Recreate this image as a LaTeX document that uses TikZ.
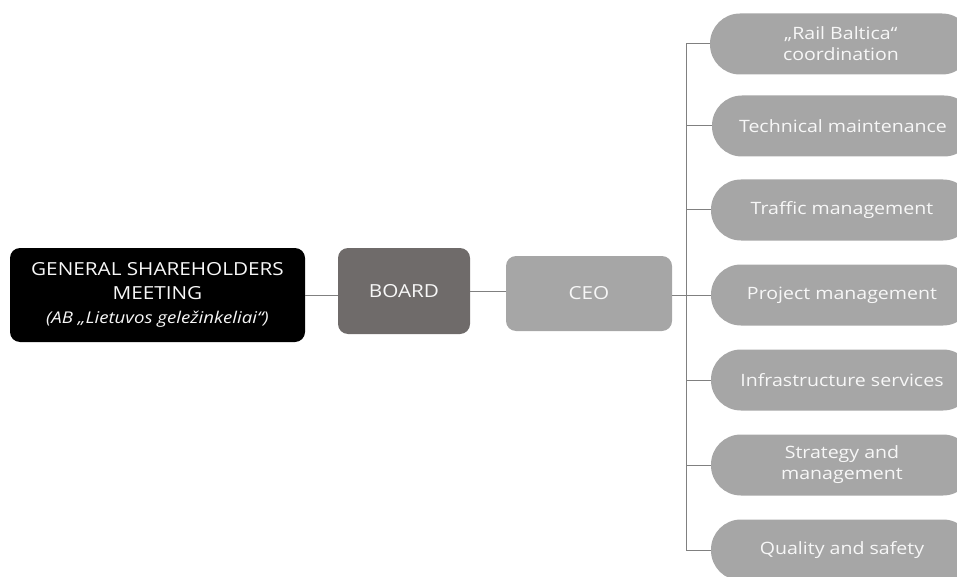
\documentclass[tikz,border=0pt]{standalone}
\usepackage{fontspec}
\setmainfont{Open Sans}[FakeStretch=1.15]
\definecolor{boardgray}{HTML}{6F6B6A}
\definecolor{unitgray}{HTML}{A6A6A6}
\definecolor{linkgray}{HTML}{808080}
\definecolor{lighttext}{HTML}{F7F7F7}
\begin{document}
\begin{tikzpicture}[x=1pt,y=-1pt,
  box/.style={rounded corners=10pt,text=lighttext,align=center,font=\fontsize{18}{24}\selectfont},
  unit/.style={fill=unitgray,rounded corners=30pt,minimum width=262pt,minimum height=61pt,
    text=lighttext,align=center,font=\fontsize{17}{21}\selectfont},
  link/.style={draw=linkgray,line width=1pt}]

\useasboundingbox (0,0) rectangle (957,577);
\clip (0,0) rectangle (957,577);

\node[box,fill=black,minimum width=295pt,minimum height=94pt] (gsm) at (157.5,295)
  {GENERAL SHAREHOLDERS\\MEETING\\{\itshape\fontsize{16.2}{18}\selectfont(AB „Lietuvos geležinkeliai“)}};
\node[box,fill=boardgray,minimum width=132pt,minimum height=86pt] (board) at (404,291) {BOARD};
\node[box,fill=unitgray,minimum width=166pt,minimum height=75pt] (ceo) at (589,293.5) {CEO};

\coordinate (trunk) at (686,295);

\node[unit] (rb) at (841,44) {„Rail Baltica“\\coordination};
\node[unit] (tech) at (843,126) {Technical maintenance};
\node[unit] (traffic) at (842,210) {Traffic management};
\node[unit] (project) at (842,295) {Project management};
\node[unit] (infra) at (842,380) {Infrastructure services};
\node[unit] (strategy) at (842,465) {Strategy and\\management};
\node[unit] (quality) at (842,550) {Quality and safety};

\draw[link] (gsm.east) -- (board.west |- gsm.east);
\draw[link] (board.east) -- (ceo.west |- board.east);
\draw[link] (ceo.east |- trunk) -- (trunk);
\draw[link] (trunk |- rb.west) -- (trunk |- quality.west);
\foreach \u in {rb,tech,traffic,project,infra,strategy,quality}
  \draw[link] (trunk |- \u.west) -- (\u.west);

\end{tikzpicture}
\end{document}
